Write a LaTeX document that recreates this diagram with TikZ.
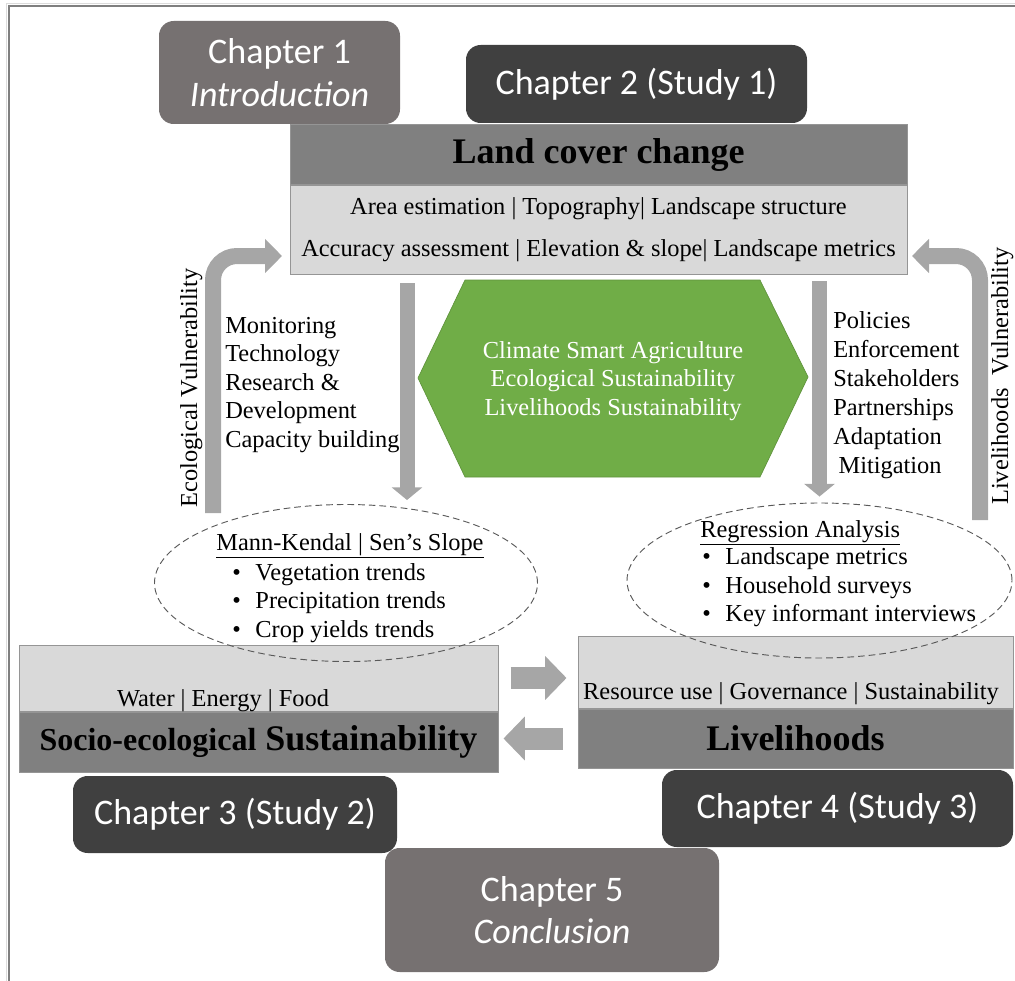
\documentclass[tikz,border=0pt]{standalone}
\usepackage{fontspec}
\setmainfont{Liberation Serif}
\newfontfamily\chapfont{Carlito}
\usetikzlibrary{arrows.meta,positioning,shapes.geometric}
\definecolor{chapdark}{HTML}{404040}
\definecolor{chapmid}{HTML}{767171}
\definecolor{headgray}{HTML}{808080}
\definecolor{bodygray}{HTML}{D9D9D9}
\definecolor{edgegray}{HTML}{959595}
\definecolor{arrowgray}{HTML}{A6A6A6}
\definecolor{csagreen}{HTML}{70AD47}
\definecolor{framedark}{HTML}{7F7F7F}
\definecolor{framelight}{HTML}{DCDCDC}
\tikzset{
  chapbox/.style={rounded corners=11pt,inner sep=0pt,text=white,align=center,
    font=\chapfont\fontsize{27pt}{32pt}\selectfont},
  headbox/.style={fill=headgray,draw=edgegray,line width=0.75pt,inner sep=0pt,
    font=\bfseries\fontsize{27pt}{32pt}\selectfont},
  bodybox/.style={fill=bodygray,draw=edgegray,line width=0.75pt,inner sep=0pt,align=center},
  listtxt/.style={inner sep=0pt,font=\fontsize{18.3pt}{21.75pt}\selectfont},
  trendell/.style={ellipse,draw=black!65,line width=0.7pt,dash pattern=on 5pt off 3pt,inner sep=0pt},
  downarrow/.style={draw=arrowgray,line width=11.25pt,-{Triangle[length=9.5pt,width=22.5pt]}},
  bendarrow/.style={draw=arrowgray,line width=12pt,rounded corners=18pt,-{Triangle[length=12.75pt,width=25pt]}},
  sidearrow/.style={draw=arrowgray,line width=16.5pt,-{Triangle[length=16pt,width=32pt]}}
}
\begin{document}
\begin{tikzpicture}[x=0.75pt,y=-0.75pt]
\useasboundingbox (0,0) rectangle (1015,981);
\node[headbox,minimum width=462.75pt,minimum height=44.25pt] (lcchead) at (598.5,154.5) {Land cover change};
\node[bodybox,minimum width=462.75pt,minimum height=66.75pt,below=0pt of lcchead,
  font=\fontsize{18.3pt}{31.5pt}\selectfont] (lccbody)
  {Area estimation | Topography| Landscape structure\\Accuracy assessment | Elevation \& slope| Landscape metrics};
\filldraw[fill=csagreen,draw=csagreen!85!black,line width=0.5pt]
  (418,378) -- (465,280) -- (760,280) -- (808,377) -- (760,477) -- (465,477) -- cycle;
\node[listtxt,text=white,align=center,font=\fontsize{18.3pt}{21.25pt}\selectfont] (csa) at (613,381)
  {Climate Smart Agriculture\\Ecological Sustainability\\Livelihoods Sustainability};
\foreach \txt [count=\i from 0] in {Monitoring,Technology,Research \&,Development,Capacity building}{
  \node[listtxt,anchor=base west] (act\i) at (225,333+28.6*\i) {\txt};
}
\foreach \txt [count=\i from 0] in {Policies,Enforcement,Stakeholders,Partnerships,Adaptation,\hspace{4pt}Mitigation}{
  \node[listtxt,anchor=base west] (gov\i) at (833,328+29*\i) {\txt};
}
\node[listtxt,rotate=90,anchor=base] (ecovul) at (197,388) {Ecological Vulnerability};
\node[listtxt,rotate=90,anchor=base] (lvlvul) at (1008,376) {Livelihoods\ \ Vulnerability};
\node[bodybox,minimum width=359.25pt,minimum height=49.5pt] (sociolight) at (258.5,678) {};
\node[headbox,minimum width=359.25pt,minimum height=45pt,below=0pt of sociolight] (sociohead)
  {{\fontsize{24pt}{28pt}\selectfont Socio-ecological} Sustainability};
\node[bodybox,minimum width=326.25pt,minimum height=54pt] (lvllight) at (795.5,672) {};
\node[headbox,minimum width=326.25pt,minimum height=44.25pt,below=0pt of lvllight] (lvlhead) {Livelihoods};
\node[listtxt] (weftxt) at (223,701) {Water | Energy | Food};
\node[listtxt] (rgstxt) at (791,694) {Resource use | Governance | Sustainability};
\node[trendell,minimum width=287.25pt,minimum height=117.75pt] (mkell) at (346,583) {};
\node[trendell,minimum width=288.75pt,minimum height=116.25pt] (regell) at (819.5,580.5) {};
\node[listtxt,anchor=base] (mkhead) at (350,550) {\underline{Mann-Kendal | Sen’s Slope}};
\foreach \txt [count=\i] in {Vegetation trends,Precipitation trends,Crop yields trends}{
  \node[listtxt,anchor=base west] (mkitem\i) at (232,551.5+28.7*\i) {\textbullet\hspace{11pt}\txt};
}
\node[listtxt,anchor=base west] (reghead) at (700,537) {\underline{Regression Analysis}};
\foreach \txt [count=\i] in {Landscape metrics,Household surveys,Key informant interviews}{
  \node[listtxt,anchor=base west] (regitem\i) at (702,536+28.5*\i) {\textbullet\hspace{11pt}\txt};
}
\coordinate (mkdrop) at (407,283);
\draw[downarrow,shorten >=3pt] (mkdrop) -- (mkdrop |- mkell.north);
\draw[downarrow,shorten >=4.5pt] ([yshift=-5pt]lccbody.south -| regell.north) -- (regell.north);
\coordinate (ecofoot) at (213,513);
\coordinate (ecotip) at (282,256);
\draw[bendarrow] (ecofoot) |- (ecotip);
\coordinate (lvlfoot) at (980,520);
\coordinate (lvltip) at (912,256);
\draw[bendarrow] (lvlfoot) |- (lvltip);
\draw[sidearrow,shorten <=9pt,shorten >=8.25pt] (sociolight.east) -- (sociolight.east -| lvllight.west);
\draw[sidearrow,shorten <=11.25pt,shorten >=3.75pt] (lvlhead.west) -- (lvlhead.west -| sociohead.east);
\node[chapbox,fill=chapmid,minimum width=180.75pt,minimum height=77.25pt] (ch1) at (279.5,72.5) {Chapter 1\\\textit{Introduction}};
\node[chapbox,fill=chapdark,minimum width=255.75pt,minimum height=58.5pt] (ch2) at (636.5,84) {Chapter 2 (Study 1)};
\node[chapbox,fill=chapdark,minimum width=243pt,minimum height=57.75pt] (ch3) at (235,814.5) {Chapter 3 (Study 2)};
\node[chapbox,fill=chapdark,minimum width=263.25pt,minimum height=57.75pt] (ch4) at (837.5,808.5) {Chapter 4 (Study 3)};
\node[chapbox,fill=chapmid,minimum width=250.5pt,minimum height=93pt] (ch5) at (552,910) {Chapter 5\\\textit{Conclusion}};
\draw[framelight,line width=1.1pt] (6.3,981) -- (6.3,3.6) -- (1015,3.6);
\draw[framedark,line width=1.8pt] (8.7,981) -- (8.7,5.8) -- (1015,5.8);
\end{tikzpicture}
\end{document}
